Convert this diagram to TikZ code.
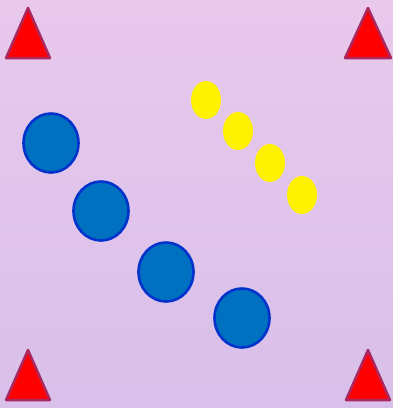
\documentclass[tikz,border=0pt]{standalone}
\definecolor{bgtop}{RGB}{233,200,236}
\definecolor{bgbot}{RGB}{216,192,234}
\definecolor{triborder}{RGB}{170,40,95}
\definecolor{trifill}{RGB}{255,0,0}
\definecolor{ballfill}{RGB}{0,112,192}
\definecolor{ballborder}{RGB}{0,51,204}
\tikzset{
  cone/.style={fill=trifill,draw=triborder,line width=2.5pt,line join=round},
  ball/.style={fill=ballfill,draw=ballborder,line width=2.6pt},
  marker/.style={fill=yellow}
}
\begin{document}
\begin{tikzpicture}[x=1pt,y=-1pt]
\useasboundingbox (0,0) rectangle (393,408);
\shade[top color=bgtop,bottom color=bgbot] (0,0) rectangle (393,408);
% cones
\draw[cone] (28,8) -- (50,58) -- (6,58) -- cycle;
\draw[cone] (368,8) -- (391,58) -- (345,58) -- cycle;
\draw[cone] (28,350) -- (50,400) -- (6,400) -- cycle;
\draw[cone] (368,350) -- (390,400) -- (346,400) -- cycle;
% yellow markers
\fill[marker] (206,100) ellipse [x radius=15, y radius=19];
\fill[marker] (238,131) ellipse [x radius=15, y radius=19];
\fill[marker] (270,163) ellipse [x radius=15, y radius=19];
\fill[marker] (302,195) ellipse [x radius=15, y radius=19];
% blue balls
\draw[ball] (51,143) ellipse [x radius=27.5, y radius=29.5];
\draw[ball] (101,211) ellipse [x radius=27.5, y radius=29.5];
\draw[ball] (166,272) ellipse [x radius=27.5, y radius=29.5];
\draw[ball] (242,318) ellipse [x radius=27.5, y radius=29.5];
\end{tikzpicture}
\end{document}
